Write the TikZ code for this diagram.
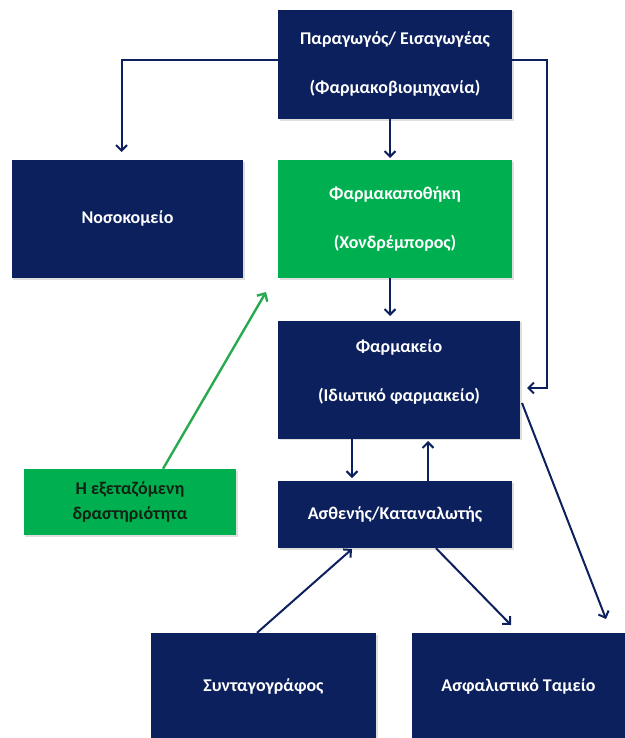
\documentclass[tikz,border=0pt]{standalone}
\usepackage{fontspec}
\setmainfont{Carlito}
\usetikzlibrary{arrows.meta,shadows}
\definecolor{navy}{RGB}{12,32,94}
\definecolor{grn}{RGB}{0,176,80}
\definecolor{grnline}{RGB}{40,170,80}
\definecolor{dtext}{RGB}{18,34,18}
\tikzset{
  box/.style={draw=none, fill=navy, text=white, font=\bfseries\fontsize{18}{22}\selectfont,
    align=center, inner sep=0pt,
    drop shadow={opacity=0.25, shadow xshift=1.5bp, shadow yshift=-1.5bp}},
  gbox/.style={box, fill=grn},
  conn/.style={draw=navy, line width=2bp, -{Straight Barb[length=5.5bp,width=11bp,line width=2bp]}},
  gconn/.style={draw=grnline, line width=2.4bp, -{Straight Barb[length=6bp,width=12bp,line width=2.4bp]}}
}
\begin{document}
\begin{tikzpicture}[x=1bp,y=-1bp]
\useasboundingbox (0,0) rectangle (625,738);
% boxes
\node[box, minimum width=234bp, minimum height=109bp] (prod) at (395,64.5)
  {Παραγωγός/ Εισαγωγέας\\[27bp](Φαρμακοβιομηχανία)};
\node[box, minimum width=231bp, minimum height=118bp] (hosp) at (127.5,219) {Νοσοκομείο};
\node[gbox, minimum width=234bp, minimum height=118bp] (whole) at (395,219)
  {Φαρμακαποθήκη\\[27bp](Χονδρέμπορος)};
\node[box, minimum width=242bp, minimum height=118bp] (pharm) at (399,379.5)
  {Φαρμακείο\\[27bp](Ιδιωτικό φαρμακείο)\\[-4bp]\mbox{}};
\node[box, minimum width=234bp, minimum height=67bp] (pat) at (395,514.5) {Ασθενής/Καταναλωτής};
\node[gbox, text=dtext, minimum width=212bp, minimum height=66bp,
  font=\bfseries\fontsize{18}{25}\selectfont] (act) at (130,502)
  {Η εξεταζόμενη\\δραστηριότητα};
\node[box, minimum width=225bp, minimum height=106bp] (presc) at (263.5,686) {Συνταγογράφος};
\node[box, minimum width=213bp, minimum height=106bp] (fund) at (518.5,686) {Ασφαλιστικό Ταμείο};
% coordinates
\coordinate (hospin) at (121.5,152);
\coordinate (pharmin) at (527,388);
\coordinate (gtip) at (266,292);
% connectors
\draw[conn] (prod.west |- 0,60) -| (hospin);
\draw[conn] (prod.east |- 0,60) -- (547,60) |- (pharmin);
\draw[conn] (prod.south -| 390,0) -- (390,158);
\draw[conn] (whole.south -| 390,0) -- (390,316);
\draw[conn, line width=1.4bp] (pharm.south -| 352,0) -- (352,478);
\draw[conn] (pat.north -| 428,0) -- (428,441);
\draw[conn] (presc.north -| 257,0) -- (352,549);
\draw[conn] (pat.south -| 436,0) -- (511,625);
\draw[conn] (522,403) -- (606,619);
\draw[gconn] (act.north -| 163,0) -- (gtip);
\end{tikzpicture}
\end{document}
